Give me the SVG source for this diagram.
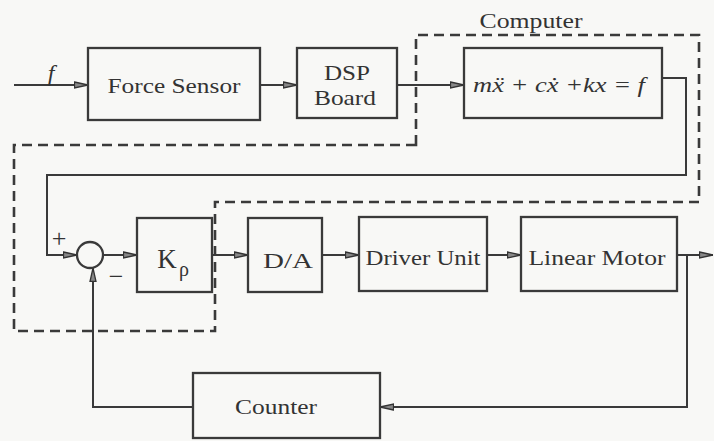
<svg xmlns="http://www.w3.org/2000/svg" width="714" height="441" viewBox="0 0 714 441">
<style>
.bg{fill:#f8f8f6}
.box{fill:none;stroke:#3a3a3a;stroke-width:2.3}
.ln{fill:none;stroke:#3a3a3a;stroke-width:2}
.dash{fill:none;stroke:#3a3a3a;stroke-width:2.6;stroke-dasharray:10 6}
.t{font-family:"Liberation Serif","DejaVu Serif",serif;font-size:22px;fill:#333;text-anchor:middle}
.it{font-style:italic}
</style>
<defs>
<marker id="ah" viewBox="0 0 14 8" refX="14" refY="4" markerWidth="14" markerHeight="8" markerUnits="userSpaceOnUse" orient="auto">
<path d="M0.5,1 L14,4 L0.5,7 Z" fill="#888" stroke="#333" stroke-width="1.3"/>
</marker>
</defs>
<rect class="bg" x="0" y="0" width="714" height="441"/>

<path id="computer-boundary" class="dash" d="M416,145 V35 H699 V202 H215 V331 H14 V145 Z"/>
<text class="t" x="531" y="28" textLength="103" lengthAdjust="spacingAndGlyphs">Computer</text>

<g id="connectors">
<path class="ln" d="M14,85 H88" marker-end="url(#ah)"/>
<path class="ln" d="M260,85 H297" marker-end="url(#ah)"/>
<path class="ln" d="M397,85 H464" marker-end="url(#ah)"/>
<path class="ln" d="M662,78 H686 V175 H47 V255 H77" marker-end="url(#ah)"/>
<path class="ln" d="M103,255 H137" marker-end="url(#ah)"/>
<path class="ln" d="M212,255 H248" marker-end="url(#ah)"/>
<path class="ln" d="M322,255 H359" marker-end="url(#ah)"/>
<path class="ln" d="M487,255 H521" marker-end="url(#ah)"/>
<path class="ln" d="M677,255 H713" marker-end="url(#ah)"/>
<path class="ln" d="M687,255 V407 H380" marker-end="url(#ah)"/>
<path class="ln" d="M193,407 H93 V268" marker-end="url(#ah)"/>
<text class="t it" x="51" y="81" style="font-size:24px">f</text>
</g>

<g id="force-sensor">
<rect class="box" x="88" y="48" width="172" height="72"/>
<text class="t" x="174" y="93" textLength="133" lengthAdjust="spacingAndGlyphs">Force Sensor</text>
</g>

<g id="dsp-board">
<rect class="box" x="297" y="48" width="100" height="70"/>
<text class="t" x="347" y="80" textLength="46" lengthAdjust="spacingAndGlyphs">DSP</text>
<text class="t" x="345" y="105" textLength="62" lengthAdjust="spacingAndGlyphs">Board</text>
</g>

<g id="dynamics">
<rect class="box" x="464" y="48" width="198" height="70"/>
<text class="t it" x="559" y="92" textLength="172" lengthAdjust="spacingAndGlyphs">mẍ  + cẋ +kx = f</text>
</g>

<g id="summing-junction">
<circle class="box" cx="90" cy="255" r="13"/>
<text class="t" x="59" y="247" style="font-size:26px">+</text>
<text class="t" x="116" y="285" style="font-size:26px">−</text>
</g>

<g id="kp">
<rect class="box" x="137" y="218" width="75" height="74"/>
<text class="t" x="167" y="268" style="font-size:27px">K</text>
<text class="t" x="184" y="276" style="font-size:20px">ρ</text>
</g>

<g id="da">
<rect class="box" x="248" y="218" width="74" height="74"/>
<text class="t" x="288" y="268" textLength="50" lengthAdjust="spacingAndGlyphs">D/A</text>
</g>

<g id="driver-unit">
<rect class="box" x="359" y="217" width="128" height="74"/>
<text class="t" x="423" y="265" textLength="115" lengthAdjust="spacingAndGlyphs">Driver Unit</text>
</g>

<g id="linear-motor">
<rect class="box" x="521" y="217" width="156" height="74"/>
<text class="t" x="597" y="265" textLength="137" lengthAdjust="spacingAndGlyphs">Linear Motor</text>
</g>

<g id="counter">
<rect class="box" x="193" y="373" width="187" height="65"/>
<text class="t" x="276" y="414" textLength="82" lengthAdjust="spacingAndGlyphs">Counter</text>
</g>
</svg>
